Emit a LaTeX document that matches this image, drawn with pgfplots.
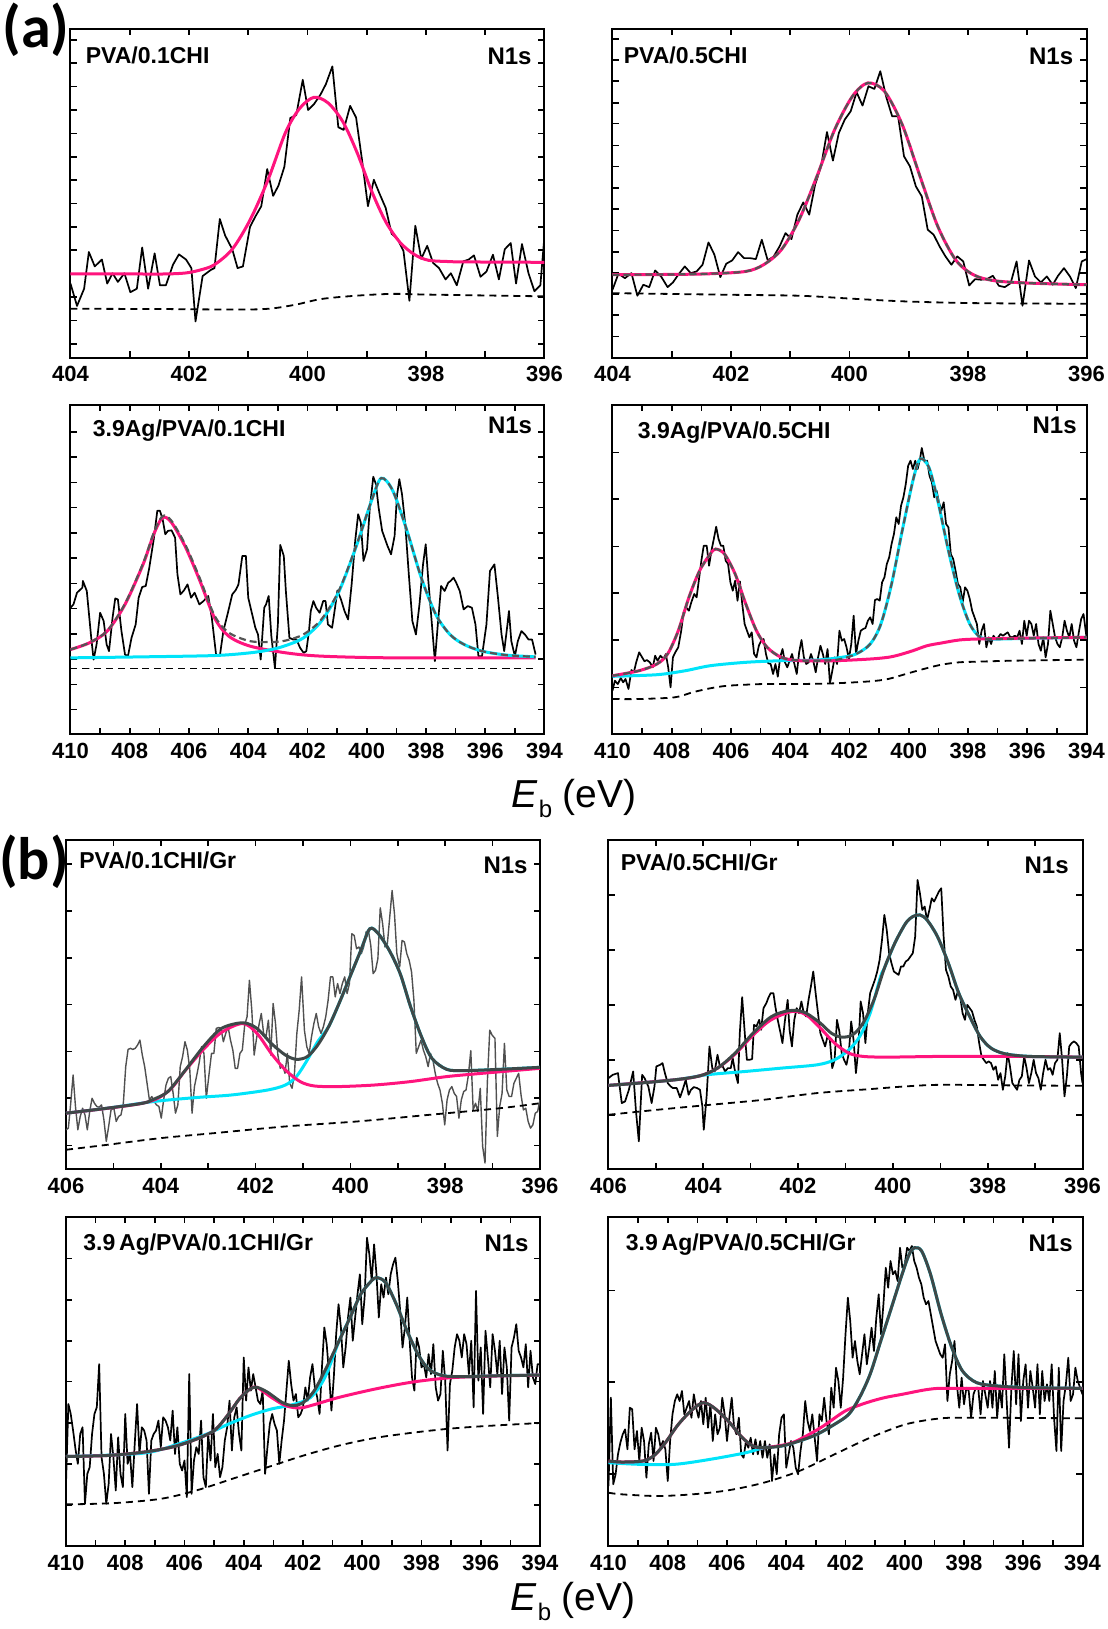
\documentclass[border=0pt]{standalone}
\usepackage{fontspec}
\setmainfont{Liberation Sans}
\newfontfamily\carlito{Carlito}
\usepackage{pgfplots}
\pgfplotsset{compat=1.18}
\definecolor{pk}{RGB}{255,20,125}
\definecolor{cy}{RGB}{0,228,250}
\definecolor{envc}{RGB}{62,72,72}
\definecolor{envd}{RGB}{85,85,85}
\definecolor{gd}{RGB}{80,80,80}
\pgfplotsset{
 panel/.style={scale only axis, width=237pt, height=164.5pt, x dir=reverse, ymin=0,
   anchor=south west, axis line style={line width=1pt},
   every tick/.style={black, line width=0.8pt},
   major tick length=3.2pt, minor tick length=3.2pt,
   yticklabel=\empty,
   xticklabel style={font=\bfseries\fontsize{11}{12}\selectfont, yshift=-1pt}},
 r8/.style={xmin=396, xmax=404, xtick={396,398,400,402,404}, xticklabels={396,398,400,402,404}, minor xtick={397,399,401,403}},
 r16/.style={xmin=394, xmax=410, xtick={394,396,398,400,402,404,406,408,410}, xticklabels={394,396,398,400,402,404,406,408,410}, minor xtick={395,397,399,401,403,405,407,409}},
 r10/.style={xmin=396, xmax=406, xtick={396,398,400,402,404,406}, xticklabels={396,398,400,402,404,406}, minor xtick={397,399,401,403,405}},
 dat/.style={black, line width=0.85pt, line join=round},
 bgd/.style={black, line width=0.9pt, dash pattern=on 3.5pt off 2.5pt, smooth},
 fp/.style={pk, line width=1.5pt, smooth},
 fc/.style={cy, line width=1.5pt, smooth},
 fe/.style={envc, line width=1.5pt, smooth},
 fed/.style={envd, line width=1.1pt, dash pattern=on 3.5pt off 2pt, smooth},
}
\begin{document}
\begin{tikzpicture}
\useasboundingbox (0,0) rectangle (554pt,-814.5pt);
% ---------------- Panel 1
\begin{axis}[panel, r8, at={(35.25pt,-178.75pt)}, ymax=319,
  ytick={13.3,36,58.7,81.3,104,126.7,149.3,172,194.7,217.3,240,262.7,285.3,308}]
\addplot[dat] coordinates {(404.00,71.7)(403.89,50)(403.77,66.7)(403.69,102.3)(403.59,88.3)(403.47,95)(403.38,71.7)(403.29,81.7)(403.20,73.3)(403.09,81.7)(402.99,63.3)(402.88,66.7)(402.79,106.7)(402.69,66.7)(402.58,101)(402.49,70)(402.39,70)(402.27,90)(402.17,100)(402.05,95)(401.96,86.7)(401.89,35)(401.77,79)(401.63,85)(401.57,86.7)(401.48,134.3)(401.39,118.3)(401.27,105)(401.18,86.7)(401.09,88.3)(400.97,126.7)(400.88,136.7)(400.78,146.7)(400.68,182.7)(400.58,156.7)(400.49,166.7)(400.39,185)(400.29,232.3)(400.19,235)(400.08,269.3)(399.99,240)(399.89,245.7)(399.78,255)(399.69,265)(399.58,282.3)(399.48,223.3)(399.39,220.7)(399.28,244)(399.18,232.7)(399.08,191.7)(398.98,146.7)(398.88,172.3)(398.78,158.3)(398.68,145)(398.58,120)(398.48,115)(398.38,103.3)(398.28,55)(398.18,127.7)(398.08,95.7)(397.98,108.3)(397.88,91.7)(397.78,86.7)(397.67,75.7)(397.58,81.7)(397.48,70)(397.37,93.3)(397.28,95)(397.19,99)(397.08,78.3)(396.98,83.3)(396.87,99.7)(396.77,75.7)(396.67,105)(396.57,111)(396.48,71.7)(396.38,110)(396.27,81.7)(396.17,64.3)(396.07,70)(396.00,118.3)};
\addplot[bgd] coordinates {(404,47.3)(402.5,47)(400.85,46.7)(400.25,50.7)(399.77,56.7)(399.16,60)(398.56,61.7)(397.96,61)(396,59.3)};
\addplot[fp] coordinates {(404,81)(403,81)(402.4,81)(402.05,82)(401.8,85)(401.57,90)(401.27,105)(400.97,133.3)(400.67,171.7)(400.37,218.3)(400.13,241.7)(399.89,252.3)(399.65,246.7)(399.40,228.3)(399.16,198.3)(398.92,161.7)(398.68,131.7)(398.44,111.7)(398.20,100)(397.96,94.3)(397.6,93)(397.36,92.7)(396,92.3)};
\end{axis}
% ---------------- Panel 2
\begin{axis}[panel, r8, at={(306.25pt,-178.75pt)}, ymax=328.7,
  ytick={21,42.7,63.7,84.3,105.3,127,148.3,169.3,191,212,233.7,254.3,276,297,318.3}]
\addplot[dat] coordinates {(404.00,67.7)(403.90,83.7)(403.79,79.3)(403.68,84.3)(403.58,61.7)(403.48,72.7)(403.38,70.3)(403.28,87)(403.18,81)(403.07,70.3)(402.98,75)(402.89,82.7)(402.78,91)(402.68,84.3)(402.58,86)(402.48,92.7)(402.38,115)(402.28,102.7)(402.18,80.3)(402.08,93.7)(401.98,97)(401.88,105.3)(401.78,99.3)(401.68,99.3)(401.58,98.3)(401.48,117.7)(401.38,97)(401.28,101)(401.18,111)(401.08,124.3)(400.98,118.3)(400.88,142.7)(400.78,155)(400.68,142.7)(400.58,172.7)(400.48,191)(400.38,225.3)(400.28,196.7)(400.18,224.3)(400.08,237.7)(399.98,246)(399.88,265)(399.78,251.7)(399.68,271)(399.58,268.3)(399.48,286)(399.38,260.3)(399.28,241)(399.18,241)(399.08,201)(398.98,191)(398.88,171)(398.78,161)(398.68,127.7)(398.58,122.7)(398.48,111)(398.38,101)(398.28,92.7)(398.18,101)(398.08,96)(397.98,72)(397.88,78.3)(397.78,77.7)(397.68,78.3)(397.58,81.7)(397.48,71.7)(397.38,70.3)(397.28,74.3)(397.18,96)(397.08,51.7)(396.97,97)(396.87,81)(396.77,75)(396.67,81)(396.57,72.7)(396.48,81.7)(396.38,89.3)(396.28,81)(396.18,69.3)(396.08,96)(396.00,98.3)};
\addplot[bgd] coordinates {(404,64.3)(402.05,62.7)(400.84,61.7)(399.94,58.7)(399.04,56)(397.84,54.3)(396,53.7)};
\addplot[fp] coordinates {(404,82.7)(403,83)(402.35,83.7)(401.75,86)(401.45,92.7)(401.15,107.7)(400.85,137.7)(400.55,181)(400.25,227.7)(399.95,261)(399.69,274.3)(399.41,266)(399.11,232.7)(398.81,181)(398.51,131)(398.21,97.7)(397.91,82.7)(397.55,76.7)(396.95,74.3)(396,72.7)};
\addplot[fed] coordinates {(404,82.7)(403,83)(402.35,83.7)(401.75,86)(401.45,92.7)(401.15,107.7)(400.85,137.7)(400.55,181)(400.25,227.7)(399.95,261)(399.69,274.3)(399.41,266)(399.11,232.7)(398.81,181)(398.51,131)(398.21,97.7)(397.91,82.7)(397.55,76.7)(396.95,74.3)(396,72.7)};
\end{axis}
% ---------------- Panel 3
\begin{axis}[panel, r16, at={(35.25pt,-367pt)}, ymax=328.3,
  ytick={24.3,49.5,74.7,99.9,125.1,150.3,175.5,200.7,225.9,251.1,276.3,301.5}]
\addplot[dat] coordinates {(410,126)(409.9,129.3)(409.78,141)(409.6,146)(409.58,152.7)(409.45,142.7)(409.3,96)(409.22,74.3)(409.12,89.3)(409,121)(408.88,112.7)(408.78,89.3)(408.7,82.7)(408.58,116)(408.49,135.3)(408.4,134.3)(408.28,102.7)(408.16,79.3)(408.06,77.7)(407.94,96)(407.8,109.3)(407.7,136)(407.58,146.7)(407.46,147.7)(407.34,166)(407.19,194.3)(407.07,222.7)(406.98,222.7)(406.89,214.3)(406.8,199.3)(406.71,202.7)(406.59,203.3)(406.47,196)(406.39,159.3)(406.29,139.3)(406.17,143.3)(406.05,149.3)(405.93,136)(405.81,141)(405.65,129.3)(405.51,132.7)(405.35,137.7)(405.23,116)(405.08,77.7)(404.96,77.7)(404.84,102.7)(404.66,124.3)(404.54,139.3)(404.42,143.7)(404.33,149.3)(404.2,177.7)(404.08,177.7)(404,136)(403.88,121)(403.76,106)(403.67,99.3)(403.58,74.3)(403.46,126)(403.4,129.3)(403.31,137.7)(403.22,97.7)(403.1,66)(403,109.3)(402.92,188.7)(402.8,177.7)(402.73,142.7)(402.61,96)(402.49,94.3)(402.37,94.3)(402.25,86)(402.13,81)(402.04,82.7)(401.95,102.7)(401.89,122.7)(401.8,132.7)(401.71,126)(401.59,121)(401.47,132.7)(401.39,132.7)(401.31,109.3)(401.17,106)(401.07,126)(400.99,143.3)(400.87,134.3)(400.75,122.7)(400.63,114.3)(400.51,149.3)(400.39,192.7)(400.29,219.3)(400.2,211)(400.11,172.7)(399.99,184.3)(399.9,224.3)(399.78,256.7)(399.69,249.3)(399.6,226)(399.48,202.7)(399.3,187.7)(399.18,179.3)(399.06,197.7)(398.98,237.7)(398.9,254.3)(398.81,239.3)(398.7,209.3)(398.58,159.3)(398.46,112.7)(398.34,99.3)(398.22,129.3)(398.1,169.3)(398.01,189.3)(397.92,152.7)(397.8,109.3)(397.7,72.7)(397.61,106)(397.49,147.7)(397.37,142.7)(397.25,151)(397.17,152.7)(397.07,156)(396.98,151)(396.86,142.7)(396.73,124.3)(396.59,127.7)(396.45,126)(396.33,109.3)(396.23,77.7)(396.11,77.7)(395.96,109.3)(395.84,162.7)(395.69,169.3)(395.57,136)(395.45,99.3)(395.36,82.7)(395.25,109.3)(395.2,122.7)(395.12,92.7)(395,77.7)(394.9,92.7)(394.78,102.7)(394.66,99.3)(394.54,94.3)(394.42,94.3)(394.3,79.3)};
\addplot[bgd] coordinates {(410,65.3)(402,65.3)(394.3,65.3)};
\addplot[fp] coordinates {(410,84.3)(409.36,91)(408.76,102.7)(408.16,129.3)(407.55,169.3)(407.19,199.3)(406.89,216)(406.59,211)(406.11,186)(405.63,152.7)(405.14,116)(404.66,97.7)(403.94,87.7)(402.73,81)(401.53,77.7)(399.12,76)(394.3,76)};
\addplot[fc] coordinates {(410,76)(407.55,77)(405.14,78.3)(403.94,81)(403.22,84.3)(402.73,88.3)(402.13,96)(401.53,112.7)(400.93,142.7)(400.33,189.3)(399.84,232.7)(399.51,255.3)(399.12,242.7)(398.64,202.7)(398.16,156)(397.67,119.3)(397.19,99.3)(396.71,89.3)(396.11,82.7)(395.27,78.7)(394.3,77)};
\addplot[fed] coordinates {(410,84.3)(409.36,91.2)(408.76,103)(408.16,130)(407.55,170.3)(407.19,200.6)(406.89,217.5)(406.59,212.7)(406.11,188)(405.63,155)(405.14,118.3)(404.66,101.2)(403.94,92.7)(403.22,91.8)(402.73,93.3)(402.13,99.5)(401.53,114.4)(400.93,143.7)(400.33,189.8)(399.84,232.7)(399.51,255.3)(399.12,242.7)(398.64,202.7)(398.16,156)(397.67,119.3)(397.19,99.3)(396.71,89.3)(396.11,82.7)(395.27,78.7)(394.3,77)};
\end{axis}
% ---------------- Panel 4
\begin{axis}[panel, r16, at={(306.25pt,-367pt)}, ymax=329,
  ytick={46.7,94,141,187.7,235,281.7}]
\addplot[dat] coordinates {(410,43.3)(409.92,53.3)(409.82,50)(409.72,56)(409.64,51.7)(409.56,55)(409.46,45)(409.36,64)(409.28,61.7)(409.2,71.7)(409.1,81.7)(409,76.7)(408.92,72.7)(408.84,74)(408.74,71.7)(408.64,66.7)(408.56,78.3)(408.48,73.3)(408.38,78.3)(408.28,75)(408.2,80)(408.12,66.7)(408.04,46.7)(407.96,76.7)(407.88,81.7)(407.78,86.7)(407.68,103.3)(407.6,121.7)(407.52,126.7)(407.42,123.3)(407.34,131.7)(407.24,140)(407.16,136.7)(407.08,155)(407,173.3)(406.92,188.3)(406.82,188.3)(406.74,168.3)(406.66,183.3)(406.58,195)(406.5,207.3)(406.42,195)(406.34,188.3)(406.26,188.3)(406.18,173.3)(406.1,170)(406.02,151.7)(405.94,143.3)(405.86,153.3)(405.78,133.3)(405.7,152.7)(405.62,130)(405.54,110)(405.46,103.3)(405.38,96.7)(405.3,101.7)(405.22,80)(405.14,76.7)(405.06,88.3)(404.98,93.3)(404.9,95)(404.82,80)(404.74,70.7)(404.66,70)(404.58,60)(404.5,70)(404.42,57.3)(404.34,76.7)(404.26,85)(404.18,71.7)(404.1,66.7)(404.02,73.3)(403.94,80)(403.86,70)(403.78,60)(403.7,81.7)(403.62,94)(403.54,76.7)(403.46,70)(403.38,71.7)(403.3,80)(403.22,72.7)(403.14,61.7)(403.06,76.7)(402.98,88.3)(402.9,80)(402.82,70)(402.74,85)(402.66,50.7)(402.58,63.3)(402.5,76.7)(402.42,70)(402.34,103.3)(402.26,93.3)(402.18,95)(402.1,86.7)(402.02,75)(401.94,90)(401.86,118.3)(401.78,80)(401.7,93.3)(401.62,103.3)(401.54,105)(401.46,106)(401.38,113.3)(401.3,116.7)(401.22,110)(401.14,134)(401.06,135)(400.98,133.3)(400.9,151.7)(400.82,156.7)(400.74,170)(400.66,176.7)(400.58,190)(400.5,200)(400.42,216.7)(400.34,210)(400.26,228.3)(400.18,236.7)(400.1,250)(400.02,268.3)(399.94,273.3)(399.86,265)(399.78,273.3)(399.7,265)(399.62,275)(399.56,286)(399.46,271.7)(399.38,273.3)(399.3,258.3)(399.22,251.7)(399.14,236.7)(399.06,243.3)(398.98,231.7)(398.9,223.3)(398.82,231.7)(398.74,210)(398.66,206.7)(398.58,180)(398.5,175)(398.42,163.3)(398.34,150)(398.26,146.7)(398.18,131.7)(398.1,146.7)(398.02,143.3)(397.94,135)(397.86,123.3)(397.78,116.7)(397.7,110)(397.62,90)(397.54,103.3)(397.46,110)(397.38,86.7)(397.3,96.7)(397.22,90)(397.14,98.3)(397.06,95)(396.98,96.7)(396.9,100)(396.82,98.3)(396.74,100)(396.66,101.7)(396.58,97.3)(396.5,96.7)(396.42,98.3)(396.34,96.7)(396.26,103.3)(396.18,90)(396.1,113.3)(396.02,98.3)(395.94,113.3)(395.86,110)(395.78,98.3)(395.7,110)(395.62,90)(395.54,83.3)(395.46,96.7)(395.38,76.7)(395.3,90)(395.22,123.3)(395.14,110)(395.06,96.7)(394.98,90)(394.9,86.7)(394.82,96.7)(394.74,113.3)(394.66,103.3)(394.58,96.7)(394.5,110)(394.42,93.3)(394.34,86.7)(394.26,101.7)(394.18,115)(394.1,120)(394,96.7)};
\addplot[bgd] coordinates {(410,35)(409.1,35)(407.9,36.7)(407.3,41.7)(406.7,45.7)(406.1,48.3)(404.9,50)(403.7,50)(402.5,50.7)(401.3,52.7)(400.7,55)(400.1,60)(399.5,65)(398.9,69.3)(398.3,71.7)(397.7,72.3)(396.5,73.3)(394,74.3)};
\addplot[fc] coordinates {(410,57.7)(408.5,59.3)(407.54,63.3)(406.7,68.3)(405.5,71.7)(404.3,73.3)(403.1,74)(402.26,76.7)(401.78,80)(401.3,90)(400.94,110)(400.58,150)(400.22,203.3)(399.86,253.3)(399.62,275)(399.32,266.7)(399.02,233.3)(398.66,183.3)(398.3,140)(397.94,110)(397.58,96.7)(397.1,95)(395.9,95.7)(394,96.7)};
\addplot[fp] coordinates {(410,58.3)(409.1,63.3)(408.5,70)(408.14,80)(407.78,103.3)(407.42,136.7)(407.06,163.3)(406.7,180)(406.52,185)(406.22,180)(405.86,160)(405.5,130)(405.14,103.3)(404.78,86.7)(404.3,76.7)(403.7,73.3)(402.5,73.3)(401.3,75)(400.7,76.7)(400.34,79)(399.86,83.3)(399.38,88.3)(398.9,91)(398.3,94)(397.7,95)(396.5,95.7)(394,96.7)};
\addplot[fed] coordinates {(410,58.3)(409.1,63.3)(408.5,70)(408.14,80)(407.78,103.3)(407.42,136.7)(407.06,163.3)(406.7,180)(406.52,185)(406.22,180)(405.86,160)(405.5,130)(405.14,103.3)(404.78,86.7)(404.3,76.7)(403.7,73.5)(402.5,74)(401.78,80)(401.3,90)(400.94,110)(400.58,150)(400.22,203.3)(399.86,253.3)(399.62,275)(399.32,266.7)(399.02,233.3)(398.66,183.3)(398.3,140)(397.94,110)(397.58,96.7)(397.1,95)(395.9,95.7)(394,96.7)};
\end{axis}
% ---------------- Panel 5
\begin{axis}[panel, r10, at={(33pt,-584.5pt)}, ymax=330,
  ytick={23.7,71,117.7,165,211.7,258.7,306}]
\addplot[gd, line width=0.7pt, line join=round] coordinates {(406,39.3)(405.95,41)(405.9,66)(405.85,94.3)(405.8,62.7)(405.75,39.3)(405.7,52.7)(405.65,61)(405.6,54.3)(405.55,39.3)(405.5,57.7)(405.45,71)(405.4,66)(405.35,62.7)(405.3,62)(405.25,64.3)(405.2,49.3)(405.15,27.7)(405.1,42.7)(405.05,59.3)(404.99,61)(404.94,47.7)(404.89,52.7)(404.84,54.3)(404.79,66)(404.74,102.7)(404.69,120)(404.64,121)(404.59,120)(404.54,121)(404.49,124.3)(404.44,129.3)(404.39,114.3)(404.34,102.7)(404.29,86)(404.24,69.3)(404.19,72.7)(404.14,67.7)(404.09,64.3)(404.04,62.7)(403.99,51)(403.94,69.3)(403.89,84.3)(403.84,91)(403.79,92.7)(403.74,76)(403.69,56)(403.64,64.3)(403.59,102.7)(403.54,112.7)(403.49,127.7)(403.44,119.3)(403.39,101)(403.34,56)(403.29,82.7)(403.24,94.3)(403.19,106.7)(403.14,122.7)(403.09,116)(403.04,71)(402.98,96)(402.93,116)(402.88,116)(402.83,141)(402.78,142)(402.73,141)(402.68,127.7)(402.63,136)(402.58,142.7)(402.53,129.3)(402.48,119.3)(402.43,101)(402.38,101)(402.33,116)(402.28,119.3)(402.23,144.3)(402.18,152.7)(402.13,189.3)(402.08,159.3)(402.03,114.3)(401.98,131)(401.93,144.3)(401.88,156)(401.83,136)(401.78,132.7)(401.73,149.3)(401.68,114.3)(401.63,166)(401.58,146)(401.53,114.3)(401.48,101)(401.43,104.3)(401.38,96)(401.33,116)(401.28,86)(401.23,81)(401.18,96)(401.13,136)(401.08,159.3)(401.03,192.7)(400.97,139.3)(400.92,122.7)(400.87,116)(400.82,132.7)(400.77,146)(400.72,156)(400.67,142.7)(400.62,136)(400.57,142.7)(400.52,152.7)(400.47,169.3)(400.42,192.7)(400.37,192.7)(400.32,172.7)(400.27,186)(400.22,176)(400.17,186)(400.12,192.7)(400.07,176)(400.02,186)(399.97,236)(399.92,234.3)(399.87,221)(399.82,222.7)(399.77,216)(399.72,222.7)(399.67,237.7)(399.62,239.3)(399.57,224.3)(399.52,196)(399.47,199.3)(399.42,211)(399.37,262)(399.32,246)(399.27,222.7)(399.22,226)(399.17,252.7)(399.12,279.3)(399.07,256)(399.02,216)(398.96,202.7)(398.91,229.3)(398.86,227.7)(398.81,216)(398.76,209.3)(398.71,197.7)(398.66,169.3)(398.61,116)(398.56,122.7)(398.51,129.3)(398.46,119.3)(398.41,112.7)(398.36,102.7)(398.31,116)(398.26,109.3)(398.21,96)(398.16,86)(398.11,79.3)(398.06,66)(398.01,44.3)(397.96,69.3)(397.91,79.3)(397.86,82.7)(397.81,76)(397.76,72.7)(397.71,51)(397.66,69.3)(397.61,77.7)(397.56,79.3)(397.51,94.3)(397.46,118.7)(397.41,59.3)(397.36,66)(397.31,57.7)(397.26,81)(397.21,22.7)(397.16,6)(397.11,87.7)(397.06,139.3)(397.01,134.3)(396.95,131)(396.9,32.7)(396.85,62.7)(396.8,76)(396.75,126)(396.7,79.3)(396.65,72.7)(396.6,72.7)(396.55,86)(396.5,91)(396.45,96)(396.4,74.3)(396.35,59.3)(396.3,61)(396.25,47.7)(396.2,41)(396.15,44.3)(396.1,56)(396.05,57.7)(396,69.3)};
\addplot[bgd] coordinates {(406,19.3)(405.13,24.3)(404,31)(402.87,36)(401.37,42.7)(399.86,47.7)(398.35,54.3)(396.84,61)(396,66)};
\addplot[fc] coordinates {(406,56)(405.13,61)(404.15,67.7)(403.25,71.7)(402.5,74.3)(401.74,79.3)(401.37,84.3)(401.14,92.7)(400.91,109.3)(400.69,127.7)(400.46,142.7)(400.24,166)(400.01,192.7)(399.78,219.3)(399.59,241)(399.41,236)(399.18,219.3)(398.95,196)(398.73,162.7)(398.5,132.7)(398.28,111)(397.97,100)(397.6,98.7)(396.84,100)(396,102)};
\addplot[fp] coordinates {(406,56)(404.38,66)(403.85,77.7)(403.48,99)(403.1,120)(402.72,137)(402.27,146)(401.97,136)(401.67,116)(401.37,99.3)(401.06,87.7)(400.76,83.3)(400.24,82.7)(399.48,84.3)(398.73,87.7)(397.97,92.7)(397.22,96)(396,101)};
\addplot[fe] coordinates {(406,56)(405.13,61)(404.38,66)(404.15,70)(403.85,77.7)(403.48,99.3)(403.1,122.7)(402.72,141)(402.27,146.7)(401.97,141)(401.67,126)(401.37,114.3)(401.14,110)(400.91,112.7)(400.69,124.3)(400.46,142.7)(400.24,166)(400.01,192.7)(399.78,219.3)(399.59,241)(399.41,236)(399.18,219.3)(398.95,196)(398.73,162.7)(398.5,132.7)(398.28,111)(397.97,100)(397.6,98.7)(396.84,100)(396,102)};
\end{axis}
% ---------------- Panel 6
\begin{axis}[panel, r10, at={(304.25pt,-584.5pt)}, ymax=329.3,
  ytick={54.3,109.3,164.3,219.3,274.3}]
\addplot[dat] coordinates {(406,91)(405.91,94.3)(405.8,96)(405.72,66)(405.65,67.7)(405.57,79.3)(405.48,97.7)(405.42,57.7)(405.36,27.7)(405.29,94.3)(405.24,91)(405.16,82.7)(405.09,66)(405.03,82.7)(404.99,102.7)(404.91,104.3)(404.86,106)(404.81,96)(404.75,86)(404.69,82.7)(404.64,81)(404.56,81)(404.49,71.7)(404.43,80)(404.37,89.3)(404.31,74.3)(404.26,79.3)(404.2,82)(404.13,81)(404.07,79.3)(404.02,62.7)(403.99,39.3)(403.93,72.7)(403.87,122.7)(403.81,101)(403.76,97.7)(403.7,114.3)(403.65,102.7)(403.59,102.7)(403.54,97.7)(403.48,101)(403.42,101)(403.38,111)(403.33,97.7)(403.27,86)(403.23,136)(403.18,172)(403.12,132.7)(403.08,109.3)(403.03,109.3)(402.97,110)(402.93,144.3)(402.88,142.7)(402.82,149.3)(402.78,139.3)(402.73,161)(402.67,166)(402.63,171)(402.58,176)(402.52,176)(402.48,162.7)(402.43,149.3)(402.37,136)(402.33,126)(402.28,147.7)(402.22,169.3)(402.18,139.3)(402.13,122.7)(402.08,149.3)(402.03,161)(401.98,156)(401.93,167.7)(401.88,156)(401.83,152.7)(401.78,169.3)(401.73,182.7)(401.68,197.7)(401.63,176)(401.58,156)(401.53,136)(401.48,129.3)(401.43,122.7)(401.38,132.7)(401.33,129.3)(401.28,101)(401.23,109.3)(401.18,149.3)(401.13,137.7)(401.08,116)(401.03,109.3)(400.98,104.3)(400.93,116)(400.88,147.7)(400.83,129.3)(400.78,96)(400.73,119.3)(400.68,167.7)(400.63,156)(400.58,126)(400.53,156)(400.48,176)(400.43,182.7)(400.38,189.3)(400.33,197.7)(400.28,209.3)(400.23,229.3)(400.18,254.3)(400.13,239.3)(400.08,216)(400.03,206)(399.98,197.7)(399.93,196)(399.88,194.3)(399.83,202.7)(399.78,202.7)(399.73,207.7)(399.68,209.3)(399.63,212.7)(399.58,216)(399.53,232.7)(399.48,289.3)(399.43,276)(399.38,259.3)(399.33,262.7)(399.28,249.3)(399.23,259.3)(399.18,271)(399.13,267.7)(399.08,272.7)(399.03,277.7)(398.98,281)(398.93,232.7)(398.88,199.3)(398.83,192.7)(398.78,182.7)(398.73,179.3)(398.68,169.3)(398.63,177.7)(398.58,172.7)(398.53,156)(398.48,149.3)(398.43,164.3)(398.38,161)(398.33,157.7)(398.28,149.3)(398.23,142.7)(398.18,126)(398.13,112.7)(398.08,109.3)(398.03,106)(397.98,107.7)(397.93,106)(397.88,99.3)(397.83,102.7)(397.78,89.3)(397.73,96)(397.68,79.3)(397.63,92.7)(397.58,116)(397.53,102.7)(397.48,86)(397.43,82.7)(397.38,79.3)(397.33,89.3)(397.28,92.7)(397.23,112.7)(397.18,101)(397.13,86)(397.08,96)(397.03,109.3)(396.98,96)(396.93,91)(396.88,79.3)(396.83,96)(396.78,109.3)(396.73,99.3)(396.68,101)(396.63,94.3)(396.58,106)(396.53,109.3)(396.48,136)(396.43,109.3)(396.38,72.7)(396.33,92.7)(396.28,122.7)(396.23,126)(396.18,127.7)(396.13,126)(396.08,122.7)(396.03,96)(396,86)};
\addplot[bgd] coordinates {(406,54.3)(404.97,59.3)(403.85,64.3)(402.73,69.3)(401.6,76)(400.48,80)(399.73,82.7)(398.98,84.3)(397.48,83.7)(396,83.3)};
\addplot[fc] coordinates {(406,83.7)(404.6,89.3)(403.93,94.3)(403.1,97.7)(402.35,101)(401.6,104.3)(401.23,109.3)(400.93,119.3)(400.7,132.7)(400.48,156)(400.26,192.7)(400.18,201)(399.96,226)(399.73,246)(399.58,252.7)(399.43,254.3)(399.28,249.3)(399.06,232.7)(398.83,206)(398.61,176)(398.38,152.7)(398.16,132.7)(397.93,121)(397.63,115.3)(397.11,112.7)(396,112)};
\addplot[fp] coordinates {(406,83.7)(404.6,89.3)(404.07,93.3)(403.7,101)(403.33,115)(402.95,134)(402.58,149)(402.13,157.7)(401.83,154.3)(401.53,141)(401.23,126)(400.93,116)(400.63,112.7)(400.11,112)(398.98,112.7)(397.48,112.7)(396,112)};
\addplot[fe] coordinates {(406,83.7)(405.35,86)(404.6,89.3)(404.07,93.3)(403.7,101)(403.33,116)(402.95,136)(402.58,152)(402.28,157.7)(402.05,158.7)(401.83,156)(401.53,146)(401.3,136)(401.08,132)(400.85,134.3)(400.63,146)(400.4,169.3)(400.18,201)(399.96,226)(399.73,246)(399.58,252.7)(399.43,254.3)(399.28,249.3)(399.06,232.7)(398.83,206)(398.61,176)(398.38,152.7)(398.16,132.7)(397.93,121)(397.63,115.3)(397.11,112.7)(396,112)};
\end{axis}
% ---------------- Panel 7
\begin{axis}[panel, r16, at={(33pt,-773pt)}, ymax=329.7,
  ytick={41.3,82.3,123.3,164.7,205.7,246.7,288}]
\addplot[dat] coordinates {(410,62.3)(409.92,142.3)(409.84,132.3)(409.76,115.7)(409.68,97.3)(409.6,82.3)(409.52,112.3)(409.44,119)(409.36,42.3)(409.28,72.3)(409.2,79)(409.12,112.3)(409.04,132.3)(408.96,139)(408.88,182.3)(408.8,89)(408.72,72.3)(408.64,42.3)(408.56,62.3)(408.48,112.3)(408.4,89)(408.32,55.7)(408.24,109)(408.16,72.3)(408.08,59)(408,132.3)(407.92,82.3)(407.84,92.3)(407.76,59)(407.68,102.3)(407.6,142.3)(407.52,92.3)(407.44,119)(407.36,115.7)(407.28,105.7)(407.2,52.3)(407.12,105.7)(407.04,112.3)(406.96,115.7)(406.88,125.7)(406.8,99)(406.72,129)(406.64,125.7)(406.56,119)(406.48,105.7)(406.4,135.7)(406.32,92.3)(406.24,119)(406.16,82.3)(406.08,75.7)(406,85.7)(405.92,49)(405.84,172.3)(405.76,52.3)(405.68,85.7)(405.6,99)(405.52,92.3)(405.44,125.7)(405.36,69)(405.28,59)(405.2,112.3)(405.12,85.7)(405.04,132.3)(404.96,79)(404.88,92.3)(404.8,69)(404.72,79)(404.64,105.7)(404.56,119)(404.48,145.7)(404.4,95.7)(404.32,129)(404.24,139)(404.16,112.3)(404.08,95.7)(404,189)(403.92,145.7)(403.84,179)(403.76,155.7)(403.68,172.3)(403.6,159)(403.52,145.7)(403.44,142.3)(403.36,155.7)(403.28,72.3)(403.2,99)(403.12,122.3)(403.04,132.3)(402.96,122.3)(402.88,115.7)(402.8,82.3)(402.72,105.7)(402.64,125.7)(402.56,155.7)(402.48,185.7)(402.4,162.3)(402.32,145.7)(402.24,152.3)(402.16,129)(402.08,132.3)(402,139)(401.92,159)(401.84,145.7)(401.76,169)(401.68,182.3)(401.6,159)(401.52,149)(401.44,132.3)(401.36,179)(401.28,219)(401.2,202.3)(401.12,172.3)(401.04,135.7)(400.96,169)(400.88,212.3)(400.8,242.3)(400.72,219)(400.64,179)(400.56,199)(400.48,229)(400.4,249)(400.32,205.7)(400.24,229)(400.16,252.3)(400.08,272.3)(400,222.3)(399.92,249)(399.84,309)(399.76,292.3)(399.68,265.7)(399.6,302.3)(399.52,272.3)(399.44,229)(399.36,262.3)(399.28,249)(399.2,269)(399.12,252.3)(399.04,272.3)(398.96,282.3)(398.88,289)(398.8,265.7)(398.72,235.7)(398.64,199)(398.56,219)(398.48,249)(398.4,205.7)(398.32,169)(398.24,155.7)(398.16,208.7)(398.08,199)(398,179)(397.92,182.3)(397.84,169)(397.76,192.3)(397.68,172.3)(397.6,202.3)(397.52,159)(397.44,145.7)(397.36,152.3)(397.28,195.7)(397.2,165.7)(397.12,95.7)(397.04,162.3)(396.96,175.7)(396.88,199)(396.8,212.3)(396.72,205.7)(396.64,189)(396.56,212.3)(396.48,202.3)(396.4,172.3)(396.32,205.7)(396.24,139)(396.16,255.7)(396.08,165.7)(396,199)(395.92,132.3)(395.84,215.7)(395.76,189)(395.68,159)(395.6,212.3)(395.52,195.7)(395.44,172.3)(395.36,205.7)(395.28,152.3)(395.2,199)(395.12,179)(395.04,125.7)(394.96,199)(394.88,208.7)(394.8,222.3)(394.72,195.7)(394.64,189)(394.56,179)(394.48,202.3)(394.4,159)(394.32,195.7)(394.24,169)(394.16,162.3)(394.08,182.3)(394,182.3)};
\addplot[bgd] coordinates {(410,41.7)(408.37,43)(406.8,47.3)(405.6,55.7)(404.39,67.3)(403.19,79)(401.98,90.7)(400.78,100.7)(399.57,108.3)(398.37,113.3)(397.16,117.3)(395.96,120)(394,123.3)};
\addplot[fc] coordinates {(410,89.7)(407.41,93)(406.2,102.3)(405.24,112.3)(404.51,122.3)(403.79,130.7)(403.07,137.3)(402.34,141.7)(401.74,149)(401.26,169)(400.78,205.7)(400.41,229)(400.05,252.3)(399.69,265.7)(399.51,269)(399.21,264)(398.85,242.3)(398.49,215.7)(398.12,192.3)(397.76,177.3)(397.28,170.7)(396.56,169.7)(395.35,170.7)(394,171.3)};
\addplot[fp] coordinates {(410,89.7)(408.61,90.7)(407.41,94)(406.44,99)(405.72,105.7)(405,115.7)(404.51,132.3)(404.15,147.3)(403.79,157.3)(403.55,159)(403.07,149)(402.59,140.7)(402.11,138.3)(401.62,141.7)(400.78,149)(399.57,157.3)(398.37,164)(397.16,168.3)(395.96,170)(394,171.3)};
\addplot[fe] coordinates {(410,89.7)(408.61,90.7)(407.41,94)(406.44,99)(405.72,105.7)(405,115.7)(404.51,132.3)(404.15,147.3)(403.79,157.3)(403.55,159)(403.19,154)(402.71,144)(402.34,140.7)(401.98,144)(401.62,155.7)(401.26,175.7)(400.78,205.7)(400.41,229)(400.05,252.3)(399.69,265.7)(399.51,269)(399.21,264)(398.85,242.3)(398.49,215.7)(398.12,192.3)(397.76,177.3)(397.28,170.7)(396.56,169.7)(395.35,170.7)(394,171.3)};
\end{axis}
% ---------------- Panel 8
\begin{axis}[panel, r16, at={(304.25pt,-773pt)}, ymax=329,
  ytick={72.3,164,255.7}]
\addplot[dat] coordinates {(410,60)(409.92,148.3)(409.84,61.7)(409.76,71.7)(409.68,91.7)(409.6,103.3)(409.52,111.7)(409.44,116.7)(409.36,96.7)(409.28,138.3)(409.2,136.7)(409.12,96.7)(409.04,115)(408.96,85)(408.88,118.3)(408.8,105)(408.72,68.3)(408.64,101.7)(408.56,113.3)(408.48,85)(408.4,118.3)(408.32,111.7)(408.24,98.3)(408.16,105)(408.08,96.7)(408,65)(407.92,105)(407.84,131.7)(407.76,145)(407.68,151.7)(407.6,145)(407.52,155)(407.44,131.7)(407.36,138.3)(407.28,145)(407.2,128.3)(407.12,151.7)(407.04,138.3)(406.96,128.3)(406.88,145)(406.8,121.7)(406.72,148.3)(406.64,118.3)(406.56,141.7)(406.48,105)(406.4,131.7)(406.32,111.7)(406.24,118.3)(406.16,148.3)(406.08,131.7)(406,105)(405.92,128.3)(405.84,148.3)(405.76,118.3)(405.68,111.7)(405.6,128.3)(405.52,91.7)(405.44,88.3)(405.36,105)(405.28,98.3)(405.2,108.3)(405.12,91.7)(405.04,106.7)(404.96,91.7)(404.88,105)(404.8,88.3)(404.72,105)(404.64,88.3)(404.56,101.7)(404.48,65)(404.4,91.7)(404.32,71.7)(404.24,111.7)(404.16,128.3)(404.08,131.7)(404,78.3)(403.92,91.7)(403.84,105)(403.76,98.3)(403.68,78.3)(403.6,71.7)(403.52,95)(403.44,111.7)(403.36,145)(403.28,125)(403.2,115)(403.12,131.7)(403.04,108.3)(402.96,85)(402.88,131.7)(402.8,125)(402.72,148.3)(402.64,125)(402.56,111.7)(402.48,158.3)(402.4,138.3)(402.32,178.3)(402.24,165)(402.16,138.3)(402.08,168.3)(402,211.7)(401.92,248.3)(401.84,225)(401.76,188.3)(401.68,205)(401.6,185)(401.52,171.7)(401.44,191.7)(401.36,211.7)(401.28,181.7)(401.2,198.3)(401.12,218.3)(401.04,195)(400.96,228.3)(400.88,251.7)(400.8,211.7)(400.72,241.7)(400.64,278.3)(400.56,258.3)(400.48,285)(400.4,271.7)(400.32,275)(400.24,265)(400.16,298.3)(400.08,278.3)(400,281.7)(399.92,298.3)(399.84,295)(399.76,300)(399.68,285)(399.6,278.3)(399.52,268.3)(399.44,261.7)(399.36,248.3)(399.28,241.7)(399.2,245)(399.12,231.7)(399.04,218.3)(398.96,205)(398.88,198.3)(398.8,191.7)(398.72,188.3)(398.64,201.7)(398.56,145)(398.48,171.7)(398.4,185)(398.32,205)(398.24,161.7)(398.16,138.3)(398.08,168.3)(398,141.7)(397.92,158.3)(397.84,155)(397.76,128.3)(397.68,151.7)(397.6,158.3)(397.52,158.3)(397.44,131.7)(397.36,165)(397.28,151.7)(397.2,138.3)(397.12,165)(397.04,138.3)(396.96,175)(396.88,128.3)(396.8,158.3)(396.72,138.3)(396.64,191.7)(396.56,145)(396.48,98.3)(396.4,158.3)(396.32,195)(396.24,141.7)(396.16,191.7)(396.08,125)(396,165)(395.92,181.7)(395.84,138.3)(395.76,175)(395.68,158.3)(395.6,138.3)(395.52,181.7)(395.44,131.7)(395.36,175)(395.28,145)(395.2,161.7)(395.12,145)(395.04,181.7)(394.96,128.3)(394.88,95)(394.8,178.3)(394.72,95)(394.64,145)(394.56,161.7)(394.48,188.3)(394.4,145)(394.32,151.7)(394.24,178.3)(394.16,165)(394.08,158.3)(394,151.7)};
\addplot[bgd] coordinates {(410,53.3)(409.56,51.7)(408.36,50)(407.16,51.7)(405.96,55.7)(404.76,63.3)(403.56,75)(402.37,91.7)(401.17,108.3)(399.97,121.7)(398.77,127.7)(397.57,128.3)(394,127.7)};
\addplot[fc] coordinates {(410,83.3)(408.96,81.7)(407.76,81.7)(406.56,86.7)(405.36,93.3)(404.76,98.3)(404.16,100)(403.56,105)(402.96,111.7)(402.37,121.7)(401.89,131.7)(401.53,148.3)(401.17,171.7)(400.81,205)(400.45,238.3)(400.09,271.7)(399.85,291.7)(399.67,298.3)(399.43,295)(399.13,271.7)(398.77,231.7)(398.41,198.3)(398.05,175)(397.57,163.3)(396.85,160)(395.77,158.3)(394,157.7)};
\addplot[fp] coordinates {(410,85)(409.56,84)(408.84,85)(408.48,90)(408.12,101.7)(407.64,121.7)(407.16,136.7)(406.8,143.3)(406.44,138.3)(405.96,125)(405.48,108.3)(405.12,100)(404.76,98.3)(403.8,103.3)(402.84,118.3)(402.01,135)(401.29,143.3)(400.69,148.3)(400.09,151.7)(399.19,156.7)(398.41,157.7)(394,157.7)};
\addplot[fe] coordinates {(410,85)(409.56,84)(408.84,85)(408.48,90)(408.12,101.7)(407.64,121.7)(407.16,136.7)(406.8,143.3)(406.44,138.3)(405.96,125)(405.48,108.3)(405.12,100)(404.76,98.3)(404.16,100)(403.56,105)(402.96,111.7)(402.37,121.7)(401.89,131.7)(401.53,148.3)(401.17,171.7)(400.81,205)(400.45,238.3)(400.09,271.7)(399.85,291.7)(399.67,298.3)(399.43,295)(399.13,271.7)(398.77,231.7)(398.41,198.3)(398.05,175)(397.57,163.3)(396.85,160)(395.77,158.3)(394,157.7)};
\end{axis}
% ---------------- Texts
\tikzset{lab/.style={anchor=base west, inner sep=0pt, font=\bfseries\fontsize{11.5}{12}\selectfont},
         nls/.style={anchor=base east, inner sep=0pt, font=\bfseries\fontsize{12}{12}\selectfont}}
\node[lab] at (42.75pt,-31.75pt) {PVA/0.1CHI};
\node[nls] at (266pt,-32pt) {N1s};
\node[lab] at (311.75pt,-31.75pt) {PVA/0.5CHI};
\node[nls] at (536.75pt,-32pt) {N1s};
\node[lab] at (46.25pt,-218pt) {3.9Ag/PVA/0.1CHI};
\node[nls] at (266.25pt,-216.5pt) {N1s};
\node[lab] at (318.75pt,-219pt) {3.9Ag/PVA/0.5CHI};
\node[nls] at (538.5pt,-216.5pt) {N1s};
\node[lab] at (39.5pt,-434pt) {PVA/0.1CHI/Gr};
\node[nls] at (264pt,-436.5pt) {N1s};
\node[lab] at (310.25pt,-435pt) {PVA/0.5CHI/Gr};
\node[nls] at (534.5pt,-436.5pt) {N1s};
\node[lab] at (41.5pt,-625pt) {3.9\,Ag/PVA/0.1CHI/Gr};
\node[nls] at (264.5pt,-625.5pt) {N1s};
\node[lab] at (312.75pt,-625pt) {3.9\,Ag/PVA/0.5CHI/Gr};
\node[nls] at (536.5pt,-625.5pt) {N1s};
\node[inner sep=0pt, font=\carlito\bfseries\fontsize{30}{30}\selectfont] at (18pt,-15pt) {(a)};
\node[inner sep=0pt, font=\carlito\bfseries\fontsize{30}{30}\selectfont] at (17pt,-431pt) {(b)};
\node[anchor=base west, inner sep=0pt, font=\fontsize{19.5}{20}\selectfont] at (255.5pt,-403.5pt) {\textit{E}\kern0.5pt\raisebox{-5pt}{\fontsize{12}{12}\selectfont b} (eV)};
\node[anchor=base west, inner sep=0pt, font=\fontsize{19.5}{20}\selectfont] at (255pt,-805pt) {\textit{E}\kern0.5pt\raisebox{-5pt}{\fontsize{12}{12}\selectfont b} (eV)};
\end{tikzpicture}
\end{document}
